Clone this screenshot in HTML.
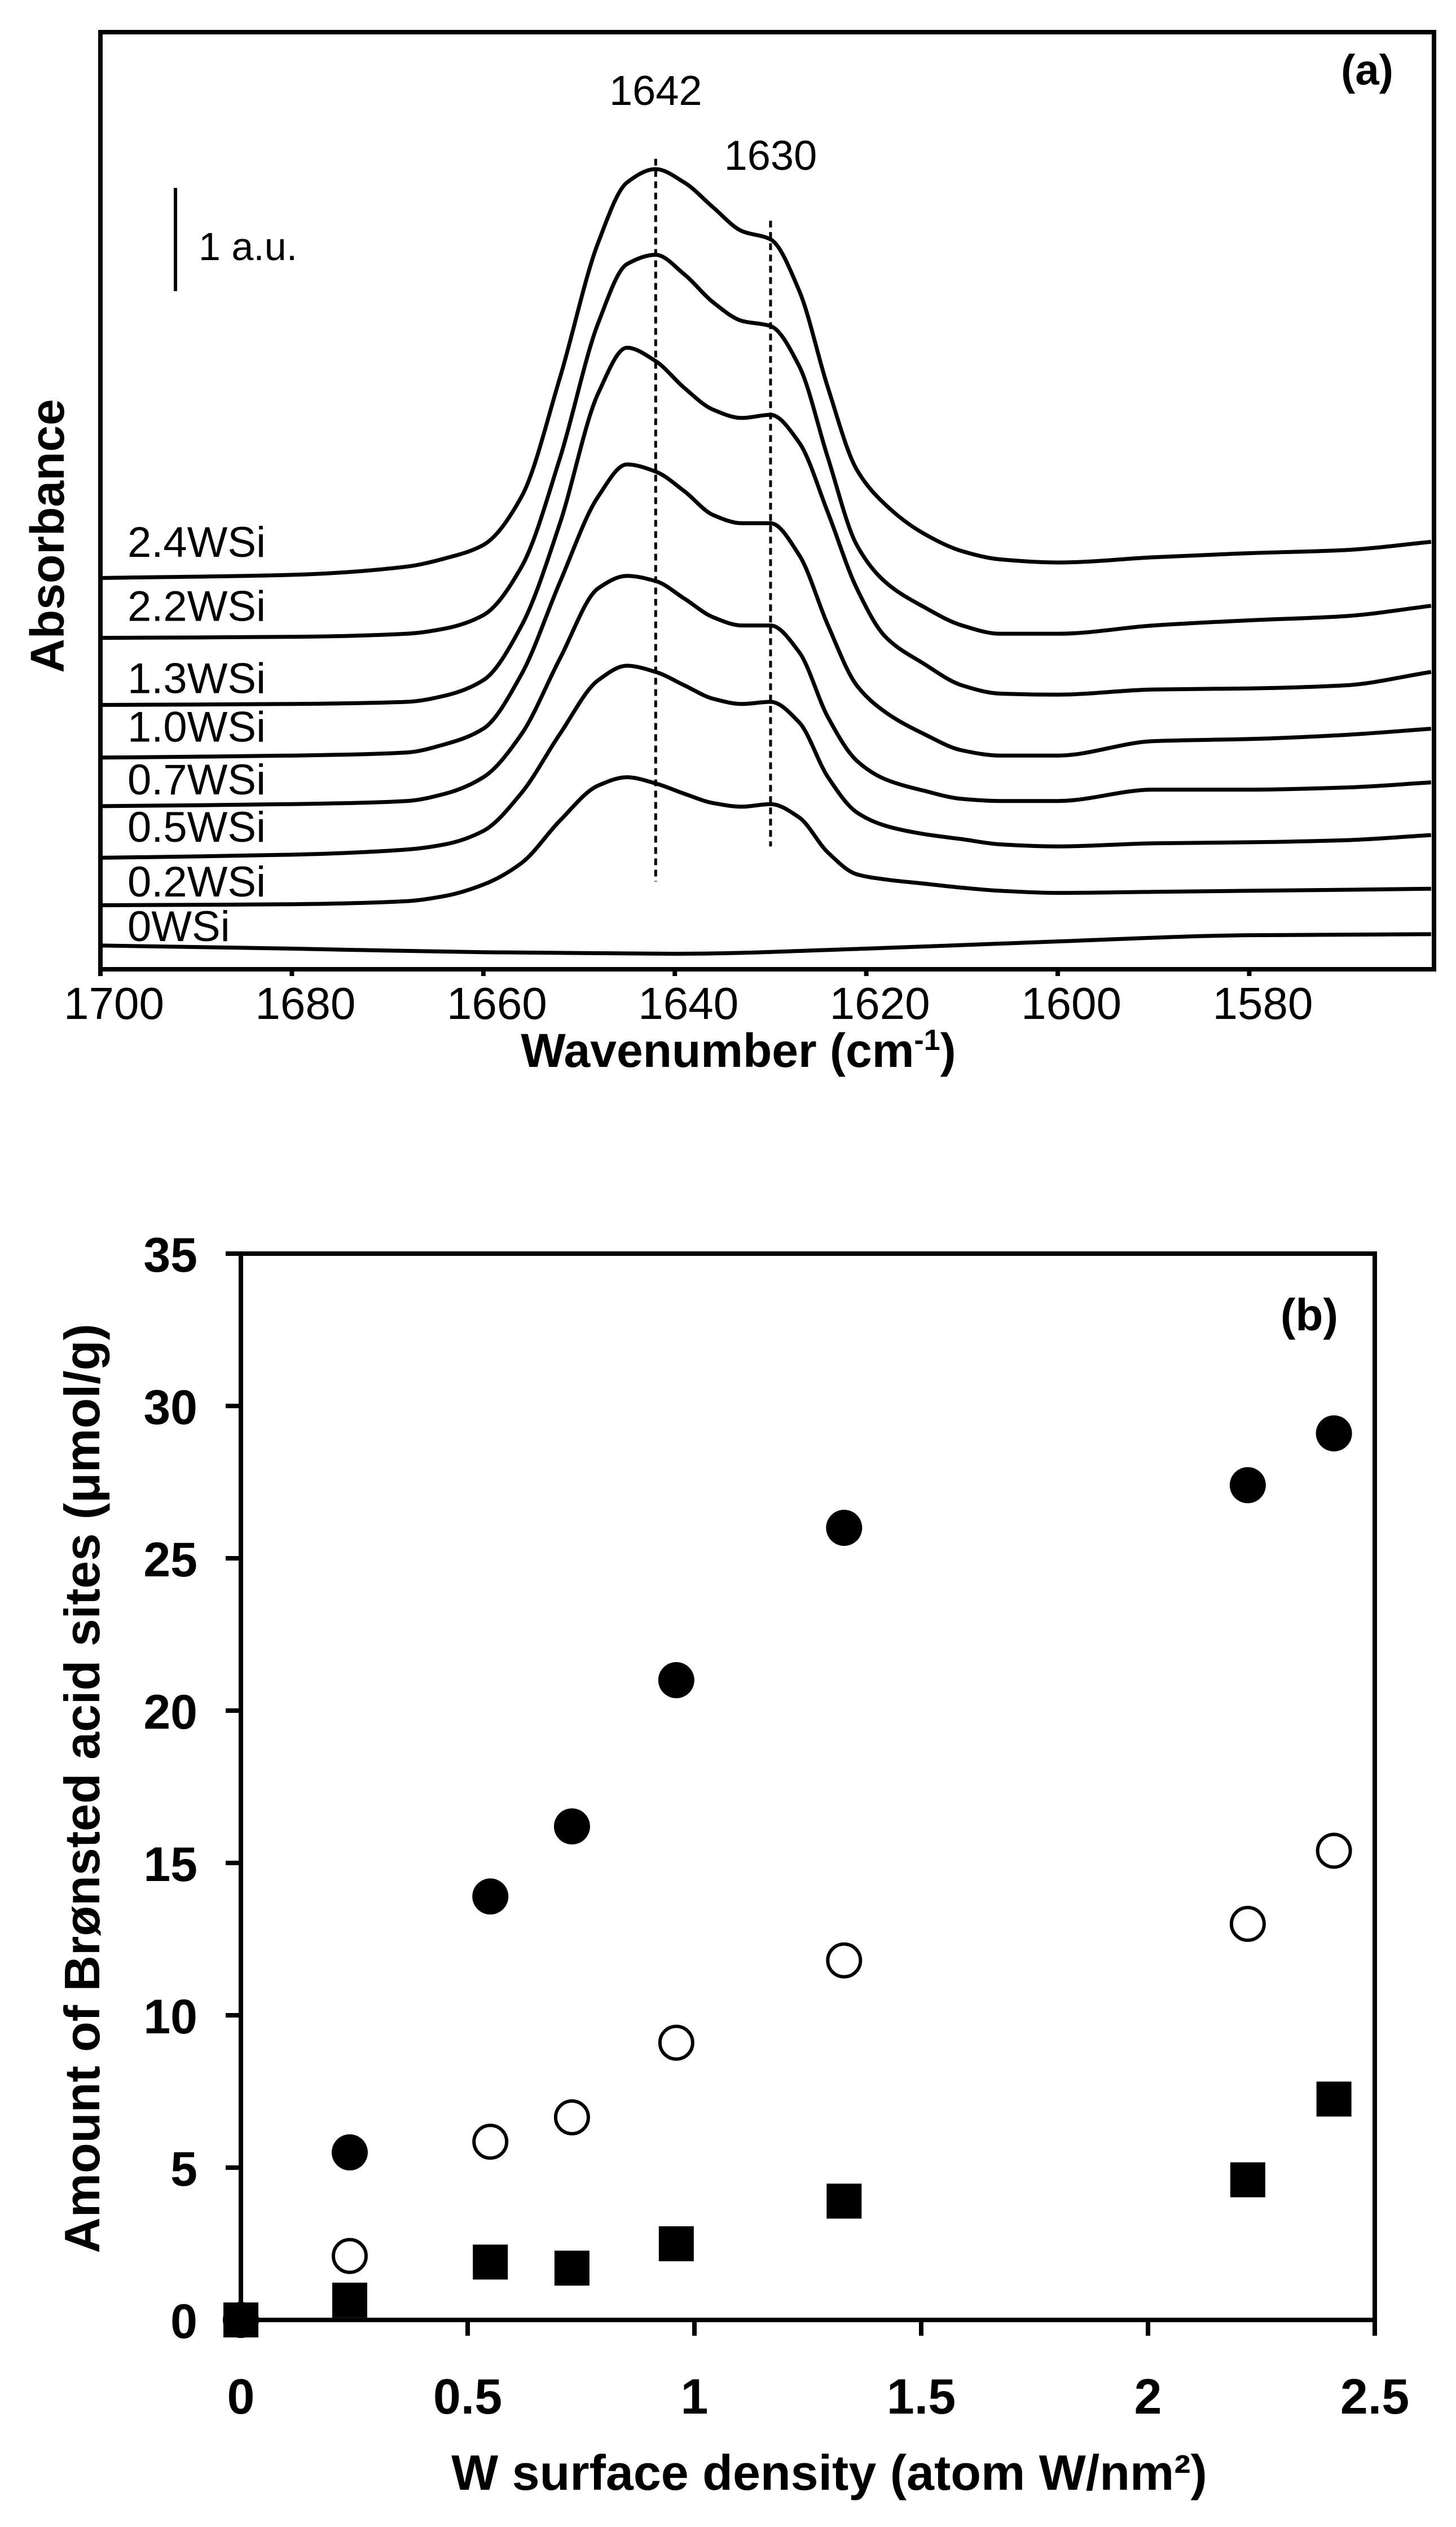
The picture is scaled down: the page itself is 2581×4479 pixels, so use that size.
<!DOCTYPE html>
<html><head><meta charset="utf-8"><style>
html,body{margin:0;padding:0;background:#fff;}
svg{display:block;}
text{font-family:"Liberation Sans",Arial,sans-serif;fill:#000;}
</style></head><body>
<svg id="fig" width="2581" height="4479" viewBox="0 0 2581 4479" xmlns="http://www.w3.org/2000/svg">
<g id="pa"></g>
<g id="pb"></g>
</svg>
<script>
// ---------- Panel (a) data ----------
const wavenumbers = [1700,1680,1668,1664,1660,1656,1652,1648,1645,1642,1639,1636,1633,1630,1627,1624,1621,1618,1614,1610,1606,1600,1590,1580,1570,1561];
const seriesNames = ["2.4WSi","2.2WSi","1.3WSi","1.0WSi","0.7WSi","0.5WSi","0.2WSi"];
const abs24 = [3.79,3.82,3.90,3.98,4.11,4.58,5.73,7.04,7.62,7.75,7.62,7.38,7.15,7.07,6.57,5.63,4.84,4.50,4.22,4.05,3.97,3.94,3.99,4.03,4.06,4.14];
const abs22 = [3.21,3.22,3.25,3.30,3.43,3.90,4.95,6.26,6.83,6.92,6.73,6.46,6.28,6.23,5.84,4.95,4.11,3.75,3.51,3.33,3.25,3.25,3.33,3.38,3.42,3.52];
const abs13 = [2.56,2.57,2.59,2.65,2.80,3.33,4.32,5.58,6.02,5.89,5.63,5.42,5.34,5.37,5.10,4.42,3.69,3.22,2.96,2.75,2.67,2.66,2.71,2.72,2.75,2.88];
const abs10 = [2.05,2.07,2.10,2.18,2.33,2.86,3.75,4.58,4.89,4.82,4.63,4.40,4.32,4.32,4.01,3.33,2.75,2.49,2.28,2.12,2.07,2.07,2.21,2.23,2.27,2.33];
const abs07 = [1.58,1.60,1.63,1.70,1.86,2.28,3.01,3.69,3.81,3.76,3.59,3.41,3.33,3.33,3.07,2.44,2.02,1.84,1.73,1.65,1.63,1.63,1.74,1.74,1.76,1.81];
const abs05 = [1.08,1.11,1.16,1.21,1.34,1.71,2.28,2.80,2.94,2.88,2.75,2.62,2.57,2.59,2.39,1.86,1.52,1.39,1.31,1.26,1.21,1.19,1.22,1.23,1.25,1.30];
const abs02 = [0.62,0.63,0.66,0.71,0.82,1.03,1.44,1.78,1.86,1.80,1.70,1.61,1.575,1.60,1.47,1.13,0.92,0.87,0.83,0.79,0.76,0.74,0.75,0.76,0.77,0.78];
const wavenumbers0 = [1700,1680,1660,1640,1620,1600,1580,1561];
const abs00 = [0.23,0.20,0.165,0.15,0.20,0.27,0.33,0.34];
const labelAbs = [3.95,3.33,2.63,2.16,1.65,1.19,0.66,0.23];
const labelNames = ["2.4WSi","2.2WSi","1.3WSi","1.0WSi","0.7WSi","0.5WSi","0.2WSi","0WSi"];
const xTicksA = [1700,1680,1660,1640,1620,1600,1580];
const peakLines = [1642,1630];
const peakTop = [7.85,7.25];
const peakBottom = [0.85,1.19];

// ---------- Panel (b) data ----------
const density = [0,0.24,0.55,0.73,0.96,1.33,2.22,2.41];
const totalSites = [0,5.5,13.9,16.2,21.0,26.0,27.4,29.1];
const openSites = [null,2.1,5.85,6.65,9.1,11.8,13.0,15.4];
const squareSites = [0,0.65,1.9,1.7,2.5,3.9,4.6,7.25];
const xTicksB = [0,0.5,1,1.5,2,2.5];
const xTickLabelsB = ["0","0.5","1","1.5","2","2.5"];
const yTicksB = [0,5,10,15,20,25,30,35];

const NS="http://www.w3.org/2000/svg";
function mk(tag, attrs, parent){const e=document.createElementNS(NS,tag);for(const k in attrs)e.setAttribute(k,attrs[k]);parent.appendChild(e);return e;}

// ----- Panel a -----
const pa=document.getElementById('pa');
const AX0=178,AX1=2542,AY0=57,AY1=1718;
const xa=w=>AX0+(1700-w)*(AX1-AX0)/(1700-1560.7);
const ya=a=>AY1-a*183;
// monotone cubic (Fritsch-Carlson) path, x increasing
function smooth(pts){
  const n=pts.length, h=[], s=[], m=[];
  for(let i=0;i<n-1;i++){h[i]=pts[i+1][0]-pts[i][0]; s[i]=(pts[i+1][1]-pts[i][1])/h[i];}
  m[0]=s[0]; m[n-1]=s[n-2];
  for(let i=1;i<n-1;i++){
    if(s[i-1]*s[i]<=0) m[i]=0;
    else { const w1=2*h[i]+h[i-1], w2=h[i]+2*h[i-1]; m[i]=(w1+w2)/(w1/s[i-1]+w2/s[i]); }
  }
  let d="M"+pts[0][0].toFixed(1)+","+pts[0][1].toFixed(1);
  for(let i=0;i<n-1;i++){
    const dx=h[i]/3;
    d+=" C"+(pts[i][0]+dx).toFixed(1)+","+(pts[i][1]+m[i]*dx).toFixed(1)+" "+(pts[i+1][0]-dx).toFixed(1)+","+(pts[i+1][1]-m[i+1]*dx).toFixed(1)+" "+pts[i+1][0].toFixed(1)+","+pts[i+1][1].toFixed(1);
  }
  return d;
}
const allA=[abs24,abs22,abs13,abs10,abs07,abs05,abs02];
allA.forEach((arr,i)=>{
  const p=mk('path',{d:smooth(wavenumbers.map((w,j)=>[xa(w),ya(arr[j])])),fill:'none',stroke:'#000','stroke-width':7,'stroke-linejoin':'round'},pa);
  
  
});
const p0=mk('path',{d:smooth(wavenumbers0.map((w,j)=>[xa(w),ya(abs00[j])])),fill:'none',stroke:'#000','stroke-width':7},pa);



peakLines.forEach((w,i)=>{
  const l=mk('line',{x1:xa(w),x2:xa(w),y1:ya(peakTop[i]),y2:ya(peakBottom[i]),stroke:'#000','stroke-width':5,'stroke-dasharray':'12 8'},pa);
  
  
  const t=mk('text',{x:xa(w),y:i==0?186:301,'font-size':74,'text-anchor':'middle'},pa);
  t.textContent=String(w);
  
  
});
labelNames.forEach((n,i)=>{
  const t=mk('text',{x:226,y:ya(labelAbs[i])-8,'font-size':76},pa);
  t.textContent=n;
  
  
});
const frA=mk('rect',{x:AX0,y:AY0,width:AX1-AX0,height:AY1-AY0,fill:'none',stroke:'#000','stroke-width':8},pa);


xTicksA.forEach(v=>{
  const tk=mk('line',{x1:xa(v),x2:xa(v),y1:AY1,y2:AY1+12,stroke:'#000','stroke-width':8},pa);
  
  
  const t=mk('text',{x:xa(v)+24,y:1806,'font-size':80,'text-anchor':'middle'},pa);
  t.textContent=String(v);
  
  
});
const sb=mk('line',{x1:311,x2:311,y1:333,y2:516,stroke:'#000','stroke-width':6},pa);


const sbt=mk('text',{x:352,y:461,'font-size':70},pa);
sbt.textContent='1 a.u.';


const la=mk('text',{x:2470,y:150,'font-size':76,'font-weight':'bold','text-anchor':'end'},pa);
la.textContent='(a)';


const xtA=mk('text',{x:1309,y:1891,'font-size':84,'font-weight':'bold','text-anchor':'middle'},pa);
xtA.innerHTML='Wavenumber (cm<tspan font-size="52" dy="-30">-1</tspan><tspan dy="30">)</tspan>';


const ytA=mk('text',{x:0,y:0,'font-size':84,'font-weight':'bold','text-anchor':'middle',transform:'translate(113,950) rotate(-90)'},pa);
ytA.textContent='Absorbance';



// ----- Panel b -----
const pb=document.getElementById('pb');
const BX0=427,BX1=2437,BY0=2222,BY1=4112;
const xb=v=>BX0+v*(BX1-BX0)/2.5;
const yb=v=>BY1-v*(BY1-BY0)/35;
const frB=mk('rect',{x:BX0,y:BY0,width:BX1-BX0,height:BY1-BY0,fill:'none',stroke:'#000','stroke-width':8},pb);


yTicksB.forEach(v=>{
  const tk=mk('line',{x1:BX0-27,x2:BX0,y1:yb(v),y2:yb(v),stroke:'#000','stroke-width':8},pb);
  
  
  const t=mk('text',{x:350,y:yb(v)+32,'font-size':86,'font-weight':'bold','text-anchor':'end'},pb);
  t.textContent=String(v);
  
  
});
xTicksB.forEach((v,i)=>{
  const tk=mk('line',{x1:xb(v),x2:xb(v),y1:BY1,y2:BY1+28,stroke:'#000','stroke-width':8},pb);
  
  
  const t=mk('text',{x:xb(v),y:4278,'font-size':88,'font-weight':'bold','text-anchor':'middle'},pb);
  t.textContent=xTickLabelsB[i];
  
  
});
density.forEach((d,i)=>{
  const c=mk('circle',{cx:xb(d),cy:yb(totalSites[i]),r:32,fill:'#000'},pb);
  
  
  if(openSites[i]!==null){
    const o=mk('circle',{cx:xb(d),cy:yb(openSites[i]),r:29,fill:'#fff',stroke:'#000','stroke-width':6},pb);
    
    
  }
  const s=mk('rect',{x:xb(d)-31,y:yb(squareSites[i])-31,width:62,height:62,fill:'#000'},pb);
  
  
});
const lb=mk('text',{x:2372,y:2358,'font-size':80,'font-weight':'bold','text-anchor':'end'},pb);
lb.textContent='(b)';


const xtB=mk('text',{x:1470,y:4413,'font-size':88,'font-weight':'bold','text-anchor':'middle'},pb);
xtB.textContent='W surface density (atom W/nm²)';


const ytB=mk('text',{x:0,y:0,'font-size':88,'font-weight':'bold','text-anchor':'middle',transform:'translate(176,3170) rotate(-90)'},pb);
ytB.textContent='Amount of Brønsted acid sites (μmol/g)';


</script>
</body></html>
